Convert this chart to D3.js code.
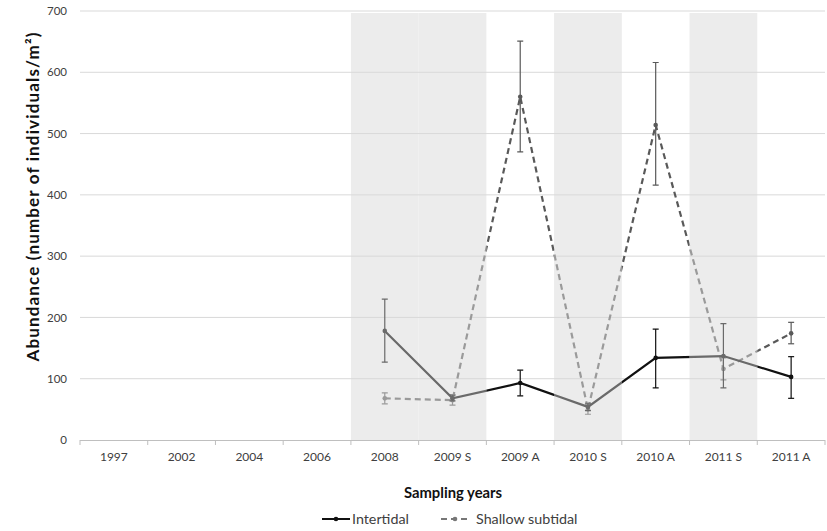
<!DOCTYPE html>
<html><head><meta charset="utf-8">
<script src="https://cdn.jsdelivr.net/npm/d3@7"></script>
<style>body{margin:0;background:#fff}text{font-family:Lato,"Open Sans",sans-serif}</style>
</head><body><svg id="c" width="827" height="531"></svg>
<script>
const categories = ["1997","2002","2004","2006","2008","2009 S","2009 A","2010 S","2010 A","2011 S","2011 A"];
const shaded = ["2008","2009 S","2010 S","2011 S"];
const yTicks = [0,100,200,300,400,500,600,700];
const intertidal = [null,null,null,null,178,68,93,54,134,137,103];
const intertidalLo = [null,null,null,null,127,64,72,48,85,85,68];
const intertidalHi = [null,null,null,null,230,73,114,60,181,190,136];
const subtidal = [null,null,null,null,68,65,560,50,514,116,174];
const subtidalLo = [null,null,null,null,59,57,470,42,416,98,157];
const subtidalHi = [null,null,null,null,77,74,651,58,616,134,192];

const svg = d3.select("#c");
const L = 80, R = 825, T = 11, B = 440;
const x = d3.scaleBand().domain(categories).range([L, R]).padding(0);
const y = d3.scaleLinear().domain([0, 700]).range([B, T]);

// shaded bands
svg.append("g").selectAll("rect").data(shaded).join("rect")
  .attr("x", d => x(d)).attr("width", x.bandwidth())
  .attr("y", y(700) + 2).attr("height", y(0) - y(700) - 2)
  .attr("fill", "#ececec");

// gridlines
svg.append("g").selectAll("line").data(yTicks.filter(d => d > 0)).join("line")
  .attr("x1", L).attr("x2", R).attr("y1", d => y(d)).attr("y2", d => y(d))
  .attr("stroke", "#d9d9d9").attr("stroke-width", 1);

// y axis labels
const yAxis = d3.axisLeft(y).tickValues(yTicks).tickSize(0).tickPadding(13);
const yg = svg.append("g").attr("transform", `translate(${L},0)`).call(yAxis);
yg.select(".domain").remove();
yg.selectAll("text").attr("font-size", 11.5).attr("fill", "#404040").attr("font-family", "Lato");

// x axis
const xg = svg.append("g").attr("transform", `translate(0,${B})`);
xg.append("line").attr("x1", L).attr("x2", R).attr("y1", 0.5).attr("y2", 0.5).attr("stroke", "#bfbfbf");
const bounds = categories.map(c => x(c)).concat([R]);
xg.selectAll("line.t").data(bounds).join("line").attr("class", "t")
  .attr("x1", d => d).attr("x2", d => d).attr("y1", 0).attr("y2", 5).attr("stroke", "#bfbfbf");
xg.selectAll("text").data(categories).join("text")
  .attr("x", d => x(d) + x.bandwidth() / 2).attr("y", 21)
  .attr("text-anchor", "middle").attr("font-size", 12).attr("fill", "#404040").text(d => d);

// axis titles
svg.append("text").attr("x", 453).attr("y", 498).attr("text-anchor", "middle")
  .attr("font-size", 14.8).attr("font-weight", "bold").attr("fill", "#111").text("Sampling years");
svg.append("text").attr("transform", "translate(39,197) rotate(-90)").attr("text-anchor", "middle")
  .attr("font-size", 17).attr("font-weight", "bold").attr("fill", "#111")
  .attr("textLength", 329).attr("lengthAdjust", "spacing")
  .text("Abundance (number of individuals/m²)");

// clip paths
const defs = svg.append("defs");
const inClip = defs.append("clipPath").attr("id", "inBand");
inClip.selectAll("rect").data(shaded).join("rect")
  .attr("x", d => x(d)).attr("width", x.bandwidth()).attr("y", 0).attr("height", 531);
const outClip = defs.append("clipPath").attr("id", "outBand");
outClip.selectAll("rect").data(categories.filter(c => !shaded.includes(c))).join("rect")
  .attr("x", d => x(d)).attr("width", x.bandwidth()).attr("y", 0).attr("height", 531);

const series = [
  {vals: intertidal, lo: intertidalLo, hi: intertidalHi, dash: null, colIn: "#6a6a6a", colOut: "#111"},
  {vals: subtidal, lo: subtidalLo, hi: subtidalHi, dash: "6,4", colIn: "#9a9a9a", colOut: "#595959"}
];
const cx = c => x(c) + x.bandwidth() / 2;
const line = d3.line().defined(d => d.v != null).x(d => cx(d.c)).y(d => y(d.v));

[series[1], series[0]].forEach(s => {
  const pts = categories.map((c, i) => ({c, v: s.vals[i], lo: s.lo[i], hi: s.hi[i]}));
  const valid = pts.filter(p => p.v != null);
  [["inBand", s.colIn], ["outBand", s.colOut]].forEach(([clip, col]) => {
    const g = svg.append("g").attr("clip-path", `url(#${clip})`);
    g.selectAll("line.eb").data(valid).join("line").attr("class", "eb")
      .attr("x1", d => cx(d.c)).attr("x2", d => cx(d.c)).attr("y1", d => y(d.lo)).attr("y2", d => y(d.hi))
      .attr("stroke", col).attr("stroke-width", 1.2);
    ["lo", "hi"].forEach(k => {
      g.selectAll("line.cap" + k).data(valid).join("line").attr("class", "cap" + k)
        .attr("x1", d => cx(d.c) - 3).attr("x2", d => cx(d.c) + 3).attr("y1", d => y(d[k])).attr("y2", d => y(d[k]))
        .attr("stroke", col).attr("stroke-width", 1.2);
    });
    g.append("path").datum(pts).attr("d", line).attr("fill", "none")
      .attr("stroke", col).attr("stroke-width", 2.2).attr("stroke-dasharray", s.dash);
    g.selectAll("circle").data(valid).join("circle")
      .attr("cx", d => cx(d.c)).attr("cy", d => y(d.v)).attr("r", 2.3).attr("fill", col);
  });
});

// legend
const lg = svg.append("g").attr("transform", "translate(0,519)");
lg.append("line").attr("x1", 322).attr("x2", 350).attr("stroke", "#111").attr("stroke-width", 2);
lg.append("circle").attr("cx", 336).attr("r", 2.3).attr("fill", "#111");
lg.append("text").attr("x", 352).attr("y", 5).attr("font-size", 14.3).attr("fill", "#404040").text("Intertidal");
lg.append("line").attr("x1", 441).attr("x2", 468).attr("stroke", "#777").attr("stroke-width", 2).attr("stroke-dasharray", "6,4");
lg.append("circle").attr("cx", 455).attr("r", 2.3).attr("fill", "#777");
lg.append("text").attr("x", 476).attr("y", 5).attr("font-size", 14.3).attr("fill", "#404040").text("Shallow subtidal");
</script></body></html>
